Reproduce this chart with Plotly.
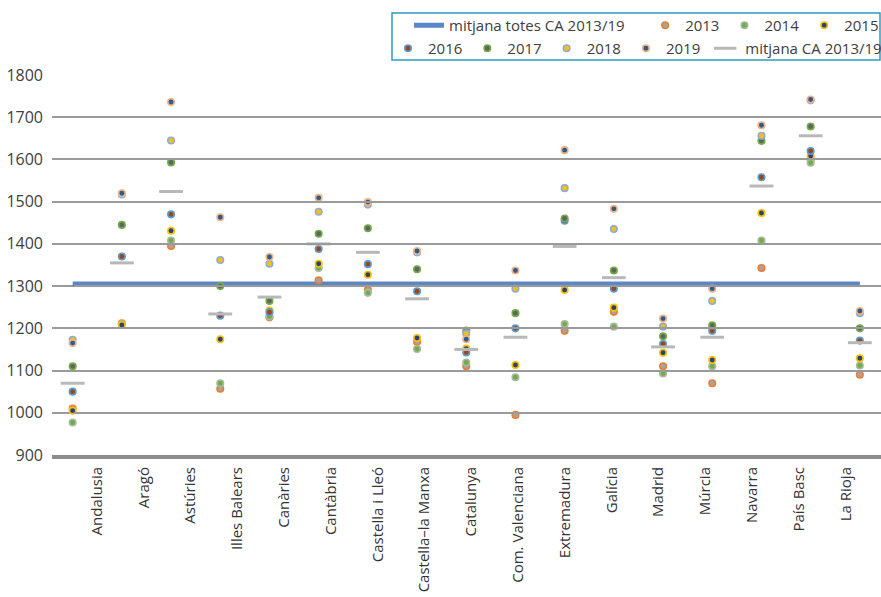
import plotly.graph_objects as go

# Comunitats autònomes (eix de categories)
categories = ["Andalusia", "Aragó", "Astúries", "Illes Balears", "Canàries",
              "Cantàbria", "Castella i Lleó", "Castella–la Manxa", "Catalunya",
              "Com. Valenciana", "Extremadura", "Galícia", "Madrid", "Múrcia",
              "Navarra", "País Basc", "La Rioja"]

# Valors anuals per comunitat
y2013 = [1010, 1212, 1395, 1057, 1226, 1314, 1291, 1168, 1110, 995, 1194, 1239, 1110, 1070, 1343, 1600, 1090]
y2014 = [977, 1210, 1408, 1070, 1228, 1343, 1284, 1151, 1119, 1084, 1210, 1204, 1093, 1110, 1408, 1592, 1112]
y2015 = [1005, 1208, 1431, 1174, 1242, 1353, 1327, 1177, 1152, 1113, 1291, 1249, 1142, 1125, 1473, 1608, 1129]
y2016 = [1050, 1370, 1470, 1230, 1238, 1388, 1352, 1288, 1143, 1200, 1455, 1294, 1163, 1194, 1558, 1620, 1171]
y2017 = [1110, 1445, 1593, 1300, 1265, 1424, 1437, 1340, 1195, 1236, 1460, 1337, 1181, 1207, 1644, 1678, 1200]
y2018 = [1173, 1517, 1645, 1362, 1353, 1476, 1493, 1380, 1188, 1294, 1532, 1435, 1204, 1265, 1656, 1740, 1236]
y2019 = [1165, 1520, 1736, 1463, 1369, 1509, 1499, 1383, 1174, 1337, 1622, 1483, 1223, 1294, 1681, 1742, 1241]

# Mitjana de cada comunitat 2013/19 i mitjana global
mean_ca = [1070, 1355, 1524, 1234, 1274, 1400, 1380, 1270, 1150, 1179, 1394, 1320, 1156, 1179, 1537, 1656, 1166]
mean_all = 1305

year_series = [
    ("2013", y2013, "#A5A5A5", "#ED7D31", "legend"),
    ("2014", y2014, "#70AD47", "#A9B8A0", "legend"),
    ("2015", y2015, "#264478", "#FFC000", "legend"),
    ("2016", y2016, "#9E480E", "#5B9BD5", "legend2"),
    ("2017", y2017, "#636363", "#70AD47", "legend2"),
    ("2018", y2018, "#FFC000", "#8FAADC", "legend2"),
    ("2019", y2019, "#255E91", "#F4B183", "legend2"),
]

FONT = "Open Sans"
TXT = "#404040"

fig = go.Figure()

fig.add_trace(go.Scatter(
    x=categories, y=[mean_all] * len(categories), mode="lines",
    name="mitjana totes CA 2013/19" + "\u00a0" * 4,
    line=dict(color="#5B87C8", width=5), legend="legend"))

for name, vals, fill, edge, lg in year_series:
    fig.add_trace(go.Scatter(
        x=categories, y=vals, mode="markers", name=name, legend=lg,
        marker=dict(size=6.5, color=fill, line=dict(color=edge, width=1.6))))

fig.add_trace(go.Scatter(
    x=categories, y=mean_ca, mode="markers", name="mitjana CA 2013/19",
    legend="legend2",
    marker=dict(symbol="line-ew", size=17, line=dict(color="#B8B8B8", width=3))))

# Eix auxiliar només per a les etiquetes de categoria
fig.add_trace(go.Scatter(
    x=categories, y=[mean_all] * len(categories), xaxis="x2", mode="markers",
    marker=dict(opacity=0), showlegend=False, hoverinfo="skip"))

L, R, T, B = 52, 0, 75, 142
W, H = 881, 597
pw, ph = W - L - R, H - T - B


def px_x(px):
    return (px - L) / pw


def px_y(py):
    return (H - B - py) / ph


fig.update_layout(
    width=W, height=H,
    margin=dict(l=L, r=R, t=T, b=B, autoexpand=False),
    paper_bgcolor="white", plot_bgcolor="rgba(0,0,0,0)",
    font=dict(family=FONT, color=TXT),
    xaxis=dict(
        type="category", range=[-0.42, 16.43], automargin=False,
        showgrid=False, showline=True, linecolor="#8C8C8C", linewidth=4,
        showticklabels=False, ticks="",
    ),
    xaxis2=dict(
        type="category", range=[-0.5, 16.5], automargin=False,
        domain=[px_x(73.6), px_x(869.2)], anchor="y", side="bottom",
        showgrid=False, showline=False, zeroline=False,
        tickangle=-90, tickfont=dict(size=15, color="#333333"),
        ticks="", ticklabelstandoff=8,
    ),
    yaxis=dict(
        range=[900, 1800], dtick=100, showgrid=True, automargin=False,
        gridcolor="#9A9A9A", gridwidth=1.6, zeroline=False,
        tickfont=dict(size=16, color=TXT), ticks="", ticklabelstandoff=8,
    ),
    legend=dict(
        orientation="h", x=px_x(409), y=px_y(9), xanchor="left", yanchor="top",
        font=dict(size=15, color=TXT), bgcolor="rgba(0,0,0,0)",
        itemclick=False,
    ),
    legend2=dict(
        orientation="h", x=px_x(388), y=px_y(32), xanchor="left", yanchor="top",
        font=dict(size=15, color=TXT), bgcolor="rgba(0,0,0,0)",
        itemclick=False,
    ),
    shapes=[dict(
        type="rect", xref="paper", yref="paper",
        x0=px_x(392), x1=px_x(880), y0=px_y(60), y1=px_y(13),
        line=dict(color="#2E9AC4", width=1.5), fillcolor="rgba(0,0,0,0)",
        layer="below",
    )],
)

fig.write_html("out.html")
